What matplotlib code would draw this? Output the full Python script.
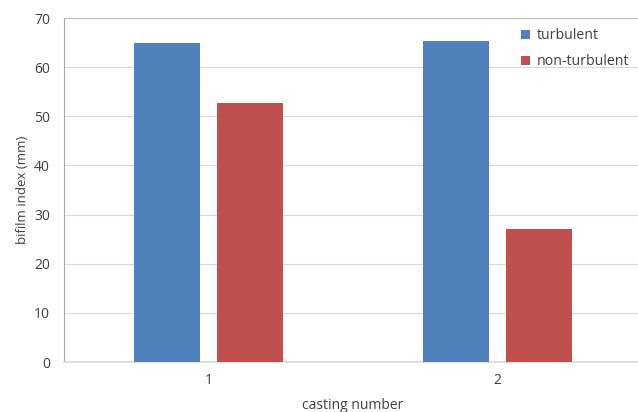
import matplotlib
matplotlib.use("Agg")
import matplotlib.pyplot as plt
import numpy as np

categories = ["1", "2"]
series_names = ["turbulent", "non-turbulent"]
turbulent = [65.0, 65.3]
non_turbulent = [52.7, 27.1]
yticks = [0, 10, 20, 30, 40, 50, 60, 70]

colors = ["#4F81BD", "#C0504D"]
plt.rcParams['font.family'] = ['Open Sans', 'DejaVu Sans']

fig = plt.figure(figsize=(6.38, 4.12), dpi=100)
ax = fig.add_axes([64/638, 50/412, 578/638, 344/412])

x = np.arange(1, len(categories) + 1)
w = 0.225
off = 0.1436
ax.bar(x - off, turbulent, width=w, color=colors[0], label=series_names[0], zorder=3)
ax.bar(x + off, non_turbulent, width=w, color=colors[1], label=series_names[1], zorder=3)

ax.set_xlim(0.5, 2.5)
ax.set_ylim(0, 70)
ax.set_yticks(yticks)
ax.set_xticks(x)
ax.set_xticklabels(categories)
ax.grid(axis='y', color='#d9d9d9', linewidth=0.8, zorder=0)
ax.tick_params(axis='both', length=0, labelsize=10, colors='#404040', pad=8)
ax.tick_params(axis='y', pad=10)
for s in ['right']:
    ax.spines[s].set_visible(False)
ax.spines['left'].set_color('#a6a6a6')
ax.spines['top'].set_color('#c0c0c0')
ax.spines['bottom'].set_color('#d9d9d9')
ax.spines['bottom'].set_linewidth(1.2)

ax.set_ylabel("bifilm index (mm)", fontsize=9.5, color='#404040', labelpad=4)
ax.set_xlabel("casting number", fontsize=10, color='#404040', labelpad=7)

leg = ax.legend(loc='upper left', bbox_to_anchor=((521-64)/578, (362-28)/344), frameon=False,
                fontsize=10.2, handlelength=0.6, handleheight=0.6, handletextpad=0.5,
                labelspacing=0.8, labelcolor='#404040', borderpad=0, borderaxespad=0)

fig.savefig("out.png", dpi=100)
